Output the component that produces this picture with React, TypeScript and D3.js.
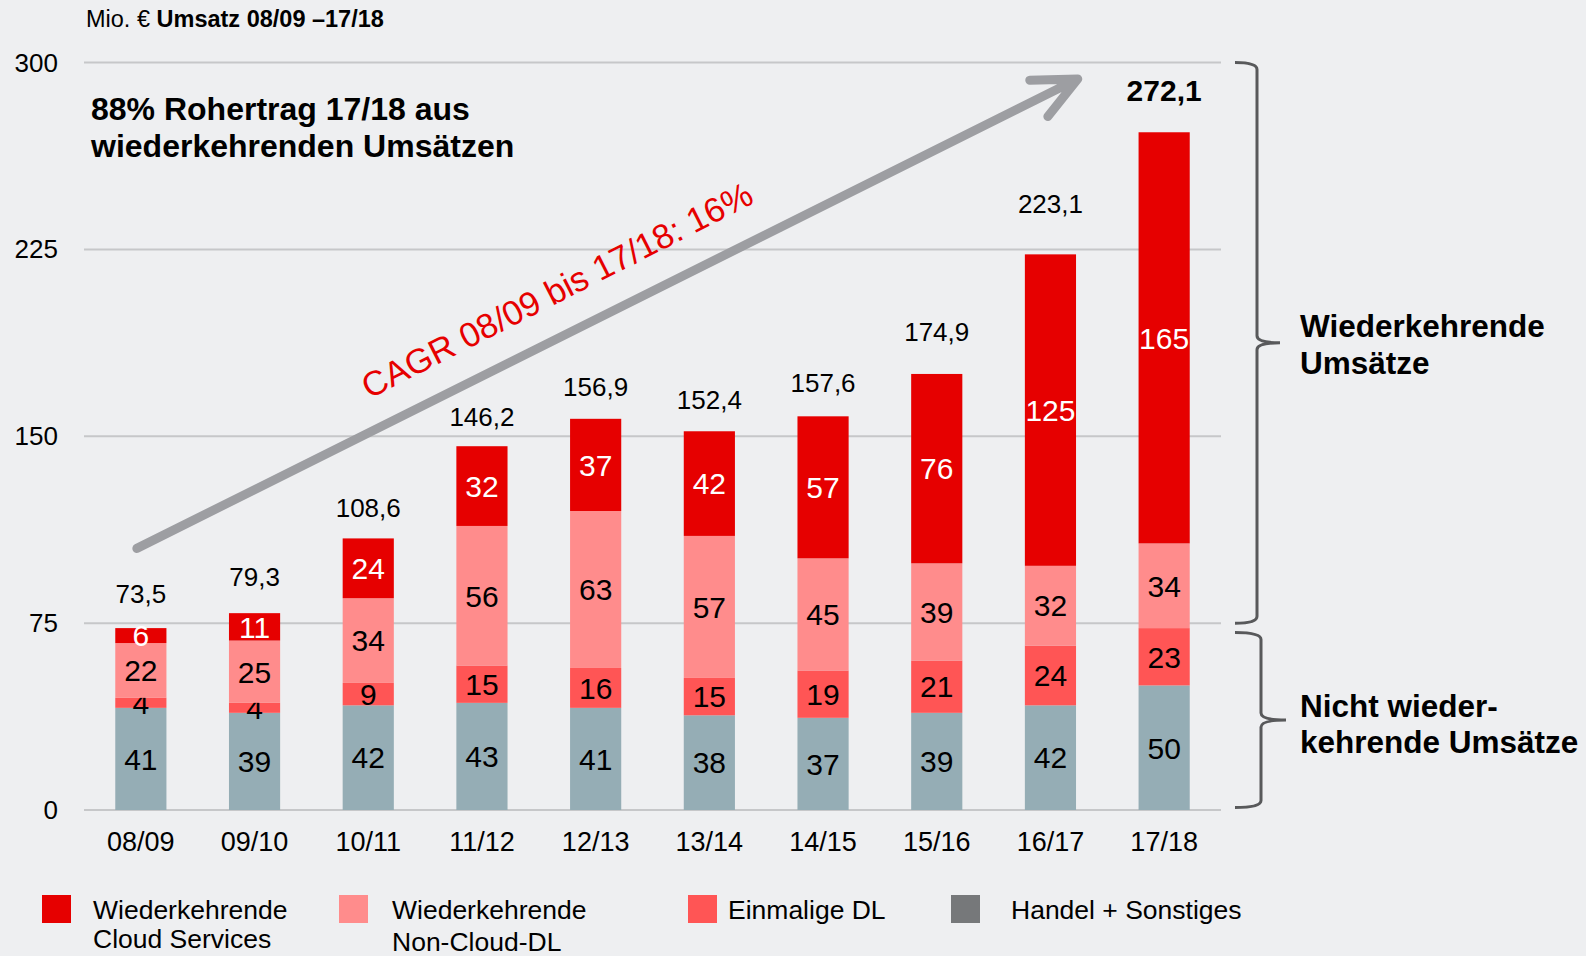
import React, { useEffect } from 'react';
import * as d3 from 'd3';

const categories = ['08/09', '09/10', '10/11', '11/12', '12/13', '13/14', '14/15', '15/16', '16/17', '17/18'];
const handel = [41, 39, 42, 43, 41, 38, 37, 39, 42, 50];
const einmalig = [4, 4, 9, 15, 16, 15, 19, 21, 24, 23];
const nonCloud = [22, 25, 34, 56, 63, 57, 45, 39, 32, 34];
const cloud = [6, 11, 24, 32, 37, 42, 57, 76, 125, 165];
const totals = [73.5, 79.3, 108.6, 146.2, 156.9, 152.4, 157.6, 174.9, 223.1, 272.1];
const yTicks = [0, 75, 150, 225, 300];

const seriesKeys = ['handel', 'einmalig', 'nonCloud', 'cloud'];
const seriesValues: Record<string, number[]> = { handel, einmalig, nonCloud, cloud };
const seriesColors: Record<string, string> = {
  handel: '#95adb5',
  einmalig: '#ff5555',
  nonCloud: '#ff8c8c',
  cloud: '#e60000',
};
const seriesTextColors: Record<string, string> = {
  handel: '#000',
  einmalig: '#000',
  nonCloud: '#000',
  cloud: '#fff',
};

const legendItems = [
  { lines: ['Wiederkehrende', 'Cloud Services'], color: '#e60000', lh: 29 },
  { lines: ['Wiederkehrende', 'Non-Cloud-DL'], color: '#ff8c8c', lh: 32 },
  { lines: ['Einmalige DL'], color: '#ff5555', lh: 32 },
  { lines: ['Handel + Sonstiges'], color: '#76787a', lh: 32 },
];
const legendX = [42, 339, 688, 951];
const legendTextX = [93, 392, 728, 1011];

// layout-only: distance of total label baseline above bar top
const totalLabelGap = [25, 27, 21, 20, 23, 22, 24, 33, 41, 31];

const FONT = '"Liberation Sans", Arial, Helvetica, sans-serif';
const W = 1586;
const H = 956;

export default function App() {
  useEffect(() => {
    document.body.style.margin = '0';
    document.body.style.background = '#eeeff1';
  }, []);

  const x = d3
    .scaleBand<string>()
    .domain(categories)
    .range([84, 1221])
    .paddingInner(0.55)
    .paddingOuter(0.275);
  const y = d3.scaleLinear().domain([0, 300]).range([810, 62.5]);
  const bw = x.bandwidth();
  const cx = (i: number) => (x(categories[0]) as number) + bw / 2 + i * x.step();

  const rows = categories.map((c, i) => {
    const r: any = { cat: c };
    seriesKeys.forEach((k) => (r[k] = seriesValues[k][i]));
    return r;
  });
  const stacked = d3.stack<any>().keys(seriesKeys)(rows);
  const fmt = (v: number) => v.toFixed(1).replace('.', ',');

  // arrow
  const a0 = { x: cx(-0.035), y: y(105) };
  const a1 = { x: cx(8.24), y: y(293.4) };
  const ang = Math.atan2(a0.y - a1.y, a0.x - a1.x);
  const armLen = 48;
  const arm = (da: number) => ({
    x: a1.x + armLen * Math.cos(ang + da),
    y: a1.y + armLen * Math.sin(ang + da),
  });
  const armA = arm((25 * Math.PI) / 180);
  const armB = arm((-25 * Math.PI) / 180);
  const arrowPath = d3.path();
  arrowPath.moveTo(a0.x, a0.y);
  arrowPath.lineTo(a1.x, a1.y);
  arrowPath.moveTo(armA.x, armA.y);
  arrowPath.lineTo(a1.x, a1.y);
  arrowPath.lineTo(armB.x, armB.y);

  const cagrX = cx(3.66);
  const cagrY = y(208.7);

  const brace = (x0: number, x1: number, xt: number, top: number, bottom: number, r: number) => {
    const mid = (top + bottom) / 2;
    const p = d3.path();
    p.moveTo(x0, top);
    p.quadraticCurveTo(x1, top, x1, top + r);
    p.lineTo(x1, mid - r);
    p.quadraticCurveTo(x1, mid, xt, mid);
    p.quadraticCurveTo(x1, mid, x1, mid + r);
    p.lineTo(x1, bottom - r);
    p.quadraticCurveTo(x1, bottom, x0, bottom);
    return p.toString();
  };

  return (
    <svg
      width={W}
      height={H}
      style={{ position: 'absolute', left: 0, top: 0, display: 'block' }}
      fontFamily={FONT}
    >
      <rect x={0} y={0} width={W} height={H} fill="#eeeff1" />

      {/* title */}
      <text x={86} y={27} fontSize={23.5} fill="#000">
        Mio. € <tspan fontWeight="bold">Umsatz 08/09 –17/18</tspan>
      </text>

      {/* gridlines */}
      {yTicks.map((t) => (
        <g key={t}>
          <line x1={84} x2={1221} y1={y(t)} y2={y(t)} stroke="#c6c7c9" strokeWidth={2} />
          <text x={58} y={y(t)} dy="0.35em" textAnchor="end" fontSize={26} fill="#000">
            {t}
          </text>
        </g>
      ))}

      {/* bars */}
      {stacked.map((s) => (
        <g key={s.key}>
          {s.map((d, i) => (
            <g key={i}>
              <rect
                x={x(categories[i])}
                y={y(d[1])}
                width={bw}
                height={y(d[0]) - y(d[1])}
                fill={seriesColors[s.key]}
              />
              <text
                x={cx(i)}
                y={(y(d[0]) + y(d[1])) / 2}
                dy="0.36em"
                textAnchor="middle"
                fontSize={30}
                fill={seriesTextColors[s.key]}
              >
                {seriesValues[s.key][i]}
              </text>
            </g>
          ))}
        </g>
      ))}

      {/* totals */}
      {totals.map((t, i) => {
        const top = y(stacked[stacked.length - 1][i][1]);
        const last = i === totals.length - 1;
        return (
          <text
            key={i}
            x={cx(i)}
            y={top - totalLabelGap[i]}
            textAnchor="middle"
            fontSize={last ? 30 : 26}
            fontWeight={last ? 'bold' : 'normal'}
            fill="#000"
          >
            {fmt(t)}
          </text>
        );
      })}

      {/* x axis labels */}
      {categories.map((c, i) => (
        <text key={c} x={cx(i)} y={851} textAnchor="middle" fontSize={27} fill="#000">
          {c}
        </text>
      ))}

      {/* arrow */}
      <path
        d={arrowPath.toString()}
        fill="none"
        stroke="#9d9ea2"
        strokeWidth={9}
        strokeLinecap="round"
        strokeLinejoin="round"
      />
      <text
        x={cagrX}
        y={cagrY}
        dy="0.35em"
        textAnchor="middle"
        fontSize={34.5}
        fill="#e60000"
        transform={`rotate(-27 ${cagrX} ${cagrY})`}
      >
        CAGR 08/09 bis 17/18: 16%
      </text>

      {/* headline */}
      <text x={91} y={120} fontSize={32} fontWeight="bold" fill="#000">
        88% Rohertrag 17/18 aus
      </text>
      <text x={91} y={157} fontSize={32} fontWeight="bold" fill="#000">
        wiederkehrenden Umsätzen
      </text>

      {/* braces */}
      <path d={brace(1235, 1257, 1280, y(300), y(75), 7)} fill="none" stroke="#58595b" strokeWidth={3} />
      <path d={brace(1235, 1261, 1286, y(71.2), y(1), 7)} fill="none" stroke="#58595b" strokeWidth={3} />
      <text x={1300} y={337} fontSize={31.5} fontWeight="bold" fill="#000">
        Wiederkehrende
      </text>
      <text x={1300} y={374} fontSize={31.5} fontWeight="bold" fill="#000">
        Umsätze
      </text>
      <text x={1300} y={717} fontSize={31.5} fontWeight="bold" fill="#000">
        Nicht wieder-
      </text>
      <text x={1300} y={753} fontSize={31.5} fontWeight="bold" fill="#000">
        kehrende Umsätze
      </text>

      {/* legend */}
      {legendItems.map((it, i) => (
        <g key={i}>
          <rect x={legendX[i]} y={895} width={29} height={28} fill={it.color} />
          {it.lines.map((l, j) => (
            <text key={j} x={legendTextX[i]} y={919 + j * it.lh} fontSize={26.5} fill="#000">
              {l}
            </text>
          ))}
        </g>
      ))}
    </svg>
  );
}
